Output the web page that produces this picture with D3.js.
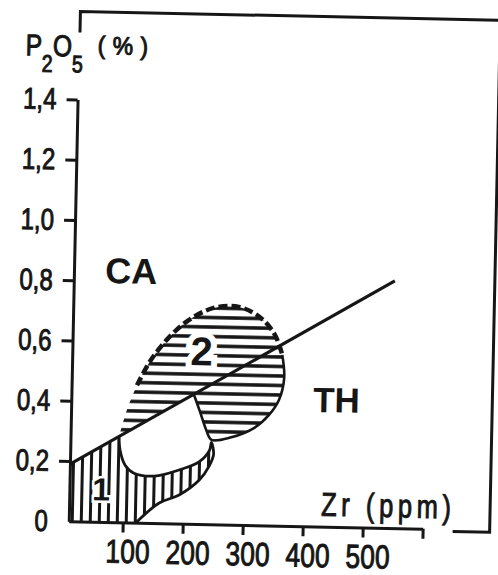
<!DOCTYPE html>
<html lang="en">
<head>
<meta charset="utf-8">
<title>P2O5 vs Zr</title>
<style>
  body { margin: 0; background: #fff; }
  svg { display: block; }
</style>
</head>
<body>
<script src="https://cdn.jsdelivr.net/npm/d3@7"></script>
<script>

// size of the page
var w = 498;
var h = 575;
var ink = "#161616";
var font = "'Liberation Sans', Arial, sans-serif";

// ticks
var xTicks = [100, 200, 300, 400, 500, 600];
var xTickLabels = ["100", "200", "300", "400", "500", ""];
var yTicks = [0, 0.2, 0.4, 0.6, 0.8, 1.0, 1.2, 1.4];
var yTickLabels = ["0", "0,2", "0,4", "0,6", "0,8", "1,0", "1,2", "1,4"];

// CA / TH dividing line  [Zr ppm, P2O5 %]
var divLine = [[10, 0.19], [545, 0.82]];

// field 1 : from the dividing line round the empty pocket, then the lower edge down to the Zr axis
var field1Edge = [[91, 0.285], [93, 0.24], [102, 0.19], [117, 0.164], [151, 0.156], [192, 0.178],
                  [225, 0.206], [242, 0.245], [245, 0.272], [249, 0.232], [242, 0.193], [226, 0.146],
                  [193, 0.095], [160, 0.067], [122, 0]];

// field 2 : from the dividing line up and round, back to the line
var field2Edge = [[91, 0.285], [103, 0.373], [119, 0.456], [141, 0.54], [171, 0.618], [203, 0.676],
                  [244, 0.718], [286, 0.723], [323, 0.688], [347, 0.633], [360, 0.567], [364, 0.491],
                  [356, 0.417], [340, 0.367], [316, 0.323], [278, 0.29], [245, 0.28], [236, 0.312],
                  [225, 0.372], [214, 0.43]];

// labels [text, Zr, P2O5, size]
var fieldLabels = [["CA", 62, 0.793, 36], ["TH", 413, 0.38, 35]];
var fieldNumbers = [["2", 207, 0.527, 40], ["1", 48, 0.072, 32]];

var x = d3.scaleLinear().domain([10, 600]).range([73, 427]);
var y = d3.scaleLinear().domain([0, 1.4]).range([525, 103]);

// squeeze a text to a narrower face
function condense(sel, k) {
  sel.each(function() {
    var n = this.getComputedTextLength();
    if (n > 0) d3.select(this).attr("textLength", n * k).attr("lengthAdjust", "spacingAndGlyphs");
  });
}

var svg = d3.select("body").append("svg").attr("width", w).attr("height", h);

// hatch patterns
var defs = svg.append("defs");
defs.append("pattern").attr("id", "vhatch").attr("patternUnits", "userSpaceOnUse")
    .attr("width", 9).attr("height", 9)
  .append("line").attr("x1", 4.5).attr("y1", -1).attr("x2", 4.5).attr("y2", 10)
    .attr("stroke", ink).attr("stroke-width", 3);
defs.append("pattern").attr("id", "hhatch").attr("patternUnits", "userSpaceOnUse")
    .attr("width", 10).attr("height", 9.5)
  .append("line").attr("x1", -1).attr("y1", 4.75).attr("x2", 11).attr("y2", 4.75)
    .attr("stroke", ink).attr("stroke-width", 3.5);

// the scan is a little tilted
var g = svg.append("g").attr("transform", "rotate(1.2,245,320)");

// frame corner lines of the page
var fr = d3.path();
fr.moveTo(74, 36); fr.lineTo(74, 15); fr.lineTo(494, 15); fr.lineTo(494, 527); fr.lineTo(457, 527);
g.append("path").attr("d", fr.toString()).attr("fill", "none")
  .attr("stroke", ink).attr("stroke-width", 3);

var curve = d3.line().x(function(d) { return x(d[0]); }).y(function(d) { return y(d[1]); })
  .curve(d3.curveCatmullRom.alpha(0.5));
var straight = d3.line().x(function(d) { return x(d[0]); }).y(function(d) { return y(d[1]); });

// field 1
var f1 = "M" + x(x.domain()[0]) + "," + y(0) + "L" + x(divLine[0][0]) + "," + y(divLine[0][1])
  + curve(field1Edge).replace(/^M/, "L") + "Z";
g.append("path").attr("d", f1).attr("fill", "url(#vhatch)");
g.append("path").attr("d", curve(field1Edge)).attr("fill", "none")
  .attr("stroke", ink).attr("stroke-width", 2.8);

// field 2
g.append("path").attr("d", curve(field2Edge) + "Z").attr("fill", "url(#hhatch)");
g.append("path").attr("d", curve(field2Edge.slice(2, 11))).attr("fill", "none")
  .attr("stroke", ink).attr("stroke-width", 4.5).attr("stroke-dasharray", "9,4");
g.append("path").attr("d", curve(field2Edge.slice(10))).attr("fill", "none")
  .attr("stroke", ink).attr("stroke-width", 2.6);

// dividing line
g.append("path").attr("d", straight(divLine)).attr("fill", "none")
  .attr("stroke", ink).attr("stroke-width", 3.2);

// axes
var yAxis = g.append("g").attr("transform", "translate(" + x(10) + ",0)")
  .call(d3.axisLeft(y).tickValues(yTicks).tickFormat(function(d, i) { return yTickLabels[i]; })
    .tickSize(11).tickSizeOuter(0).tickPadding(10));
yAxis.selectAll(".tick").filter(function(d) { return d === 0; }).select("line").remove();

var xAxis = g.append("g").attr("transform", "translate(0," + y(0) + ")")
  .call(d3.axisBottom(x).tickValues(xTicks).tickFormat(function(d, i) { return xTickLabels[i]; })
    .tickSize(10).tickSizeOuter(0).tickPadding(7));

[yAxis, xAxis].forEach(function(a) {
  a.attr("font-family", null).attr("font-size", null);
  a.select(".domain").attr("stroke", ink).attr("stroke-width", 3);
  a.selectAll(".tick line").attr("stroke", ink).attr("stroke-width", 3);
  a.selectAll(".tick text").attr("fill", ink).attr("stroke", ink).attr("stroke-width", 1)
    .style("font-family", font);
});
yAxis.selectAll(".tick text").style("font-size", "30px");
xAxis.selectAll(".tick text").style("font-size", "33px").attr("dx", 5);
condense(yAxis.selectAll(".tick text"), 0.8);
condense(xAxis.selectAll(".tick text"), 0.8);

// axis titles
var t = g.append("text").attr("x", 20).attr("y", 60).attr("fill", ink).attr("stroke", ink)
  .attr("stroke-width", 1).style("font-family", font);
t.append("tspan").text("P").style("font-size", "30px");
t.append("tspan").text("2").style("font-size", "24px").attr("dy", 16);
t.append("tspan").text("O").style("font-size", "30px").attr("dy", -16);
t.append("tspan").text("5").style("font-size", "24px").attr("dy", 16);
condense(t, 0.82);

var pc = g.append("text").attr("x", 92).attr("y", 57).text("(%)").attr("fill", ink).attr("stroke", ink)
  .attr("stroke-width", 1).style("font-family", font).style("font-size", "25px")
  .style("letter-spacing", "8px");
condense(pc, 0.92);

var zr = g.append("text").attr("x", 325).attr("y", 514).text("Zr (ppm)").attr("fill", ink).attr("stroke", ink)
  .attr("stroke-width", 1).style("font-family", font).style("font-size", "33px")
  .style("letter-spacing", "6px");
condense(zr, 0.77);

// field labels
g.selectAll(".flabel").data(fieldLabels).enter().append("text").attr("class", "flabel")
  .attr("x", function(d) { return x(d[1]); }).attr("y", function(d) { return y(d[2]); })
  .text(function(d) { return d[0]; })
  .attr("fill", ink).style("font-family", font).style("font-weight", "bold")
  .style("font-size", function(d) { return d[3] + "px"; });

g.selectAll(".fnum").data(fieldNumbers).enter().append("text").attr("class", "fnum")
  .attr("x", function(d) { return x(d[1]); }).attr("y", function(d) { return y(d[2]); })
  .text(function(d) { return d[0]; })
  .attr("fill", ink).attr("stroke", "#fff").attr("stroke-width", function(d) { return d[0] === "2" ? 12 : 5; })
  .attr("paint-order", "stroke").style("font-family", font).style("font-weight", "bold")
  .style("font-size", function(d) { return d[3] + "px"; });

</script>
</body>
</html>
